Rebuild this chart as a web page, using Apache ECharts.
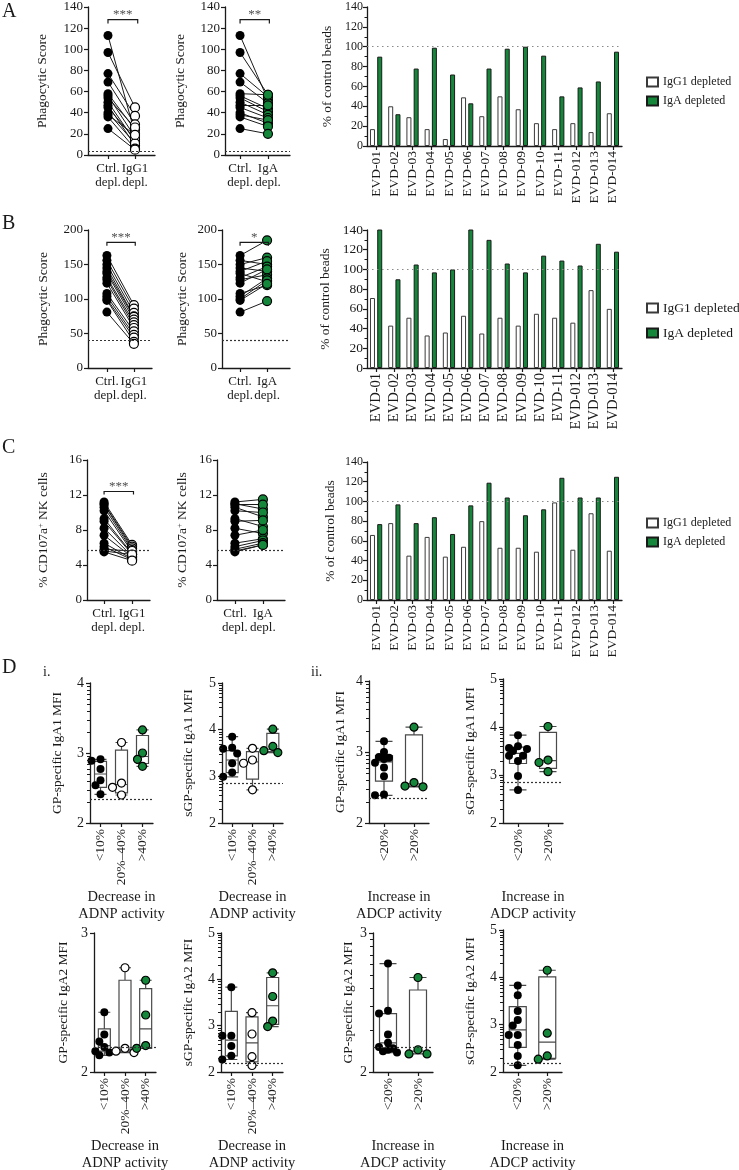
<!DOCTYPE html>
<html><head><meta charset="utf-8">
<script src="https://cdn.jsdelivr.net/npm/echarts@6/dist/echarts.min.js"></script>
<style>html,body{margin:0;padding:0;background:#fff}#c{width:739px;height:1170px}</style>
</head><body><div id="c"></div>
<script>
// ---------------- DATA ----------------
const donors = ['EVD-01','EVD-02','EVD-03','EVD-04','EVD-05','EVD-06','EVD-07','EVD-08','EVD-09','EVD-10','EVD-11','EVD-012','EVD-013','EVD-014'];

// Panel A – phagocytic score (ADCP)
const A_ctrl = [113, 97, 77, 69, 58, 56, 54, 50, 47, 45, 40, 38, 36, 25];
const A_igg1 = [20, 45, 37, 29, 24, 17, 26, 13, 9, 15, 11, 19, 6, 5];
const A_iga  = [52, 57, 55, 49, 57, 44, 41, 38, 47, 35, 30, 33, 27, 20];
const A_bar_igg1 = [17, 40, 29, 17, 7, 49, 30, 50, 37, 23, 17, 23, 14, 33];
const A_bar_iga  = [90, 32, 78, 99, 72, 43, 78, 98, 100, 91, 50, 59, 65, 95];

// Panel B – phagocytic score (ADNP)
const B_ctrl = [163, 156, 150, 145, 140, 137, 131, 128, 123, 108, 104, 100, 98, 81];
const B_igg1 = [91, 86, 80, 75, 74, 70, 66, 62, 58, 53, 48, 44, 38, 35];
const B_iga  = [185, 150, 160, 140, 155, 125, 147, 135, 143, 120, 130, 127, 122, 97];
const B_bar_igg1 = [71, 43, 51, 33, 36, 53, 35, 51, 43, 55, 51, 46, 79, 60];
const B_bar_iga  = [141, 90, 105, 97, 100, 141, 130, 106, 97, 114, 109, 104, 126, 118];

// Panel C – % CD107a+ NK cells
const C_ctrl = [11.2, 11.0, 10.9, 10.6, 10.2, 9.3, 9.0, 8.2, 7.4, 6.5, 6.1, 5.8, 5.6, 5.5];
const C_igg1 = [6.3, 6.1, 5.9, 5.7, 5.5, 5.3, 5.2, 5.0, 4.9, 4.7, 4.6, 5.6, 5.2, 4.5];
const C_iga  = [11.5, 10.4, 10.9, 9.5, 10.0, 8.4, 9.1, 7.6, 8.0, 7.0, 6.8, 6.5, 6.3, 6.3];
const C_bar_igg1 = [66, 78, 45, 64, 44, 54, 80, 53, 53, 49, 99, 51, 88, 50];
const C_bar_iga  = [77, 97, 78, 84, 67, 96, 119, 104, 86, 92, 124, 104, 104, 125];

// Panel D – log10 MFI values; boxes = [min, Q1, median, Q3, max]
const adnpCats = ['<10%', '20%\u201340%', '>40%'];
const adcpCats = ['<20%', '>20%'];

const D1_pts = [[2.91, 2.89, 2.77, 2.61, 2.54, 2.41], [3.15, 2.57, 2.51, 2.40], [3.33, 3.00, 2.91, 2.81]];
const D1_box = [[2.41, 2.51, 2.70, 2.88, 2.91], [2.40, 2.43, 2.55, 3.04, 3.15], [2.81, 2.85, 2.95, 3.25, 3.33]];
const D2_pts = [[3.85, 3.61, 3.59, 3.49, 3.28, 3.08, 2.99], [3.60, 3.35, 3.28, 2.71], [4.01, 3.64, 3.55, 3.51]];
const D2_box = [[2.99, 3.08, 3.35, 3.55, 3.85], [2.71, 2.94, 3.31, 3.53, 3.60], [3.51, 3.53, 3.58, 3.92, 4.01]];
const D3_pts = [[3.15, 3.00, 2.93, 2.92, 2.90, 2.85, 2.78, 2.66, 2.40, 2.39], [3.35, 2.57, 2.52, 2.51]];
const D3_box = [[2.39, 2.59, 2.86, 2.95, 3.15], [2.51, 2.52, 2.55, 3.24, 3.35]];
const D4_pts = [[3.83, 3.60, 3.56, 3.54, 3.50, 3.40, 3.40, 3.29, 2.98, 2.69], [4.01, 3.31, 3.26, 3.07]];
const D4_box = [[2.69, 3.24, 3.45, 3.58, 3.83], [3.07, 3.14, 3.30, 3.89, 4.01]];
const D5_pts = [[2.43, 2.27, 2.22, 2.18, 2.15, 2.14, 2.12], [2.75, 2.17, 2.15, 2.14], [2.66, 2.41, 2.19, 2.17]];
const D5_box = [[2.12, 2.15, 2.19, 2.31, 2.43], [2.14, 2.15, 2.16, 2.66, 2.75], [2.17, 2.17, 2.31, 2.60, 2.66]];
const D6_pts = [[3.83, 2.78, 2.78, 2.56, 2.35, 2.27], [3.28, 2.82, 2.33, 2.14], [4.14, 3.63, 3.10, 2.98]];
const D6_box = [[2.27, 2.35, 2.69, 3.31, 3.83], [2.14, 2.22, 2.63, 3.19, 3.28], [2.98, 3.03, 3.43, 4.04, 4.14]];
const D7_pts = [[2.78, 2.44, 2.42, 2.27, 2.21, 2.18, 2.17, 2.16, 2.15, 2.14], [2.68, 2.16, 2.13, 2.13]];
const D7_box = [[2.14, 2.16, 2.21, 2.42, 2.78], [2.13, 2.13, 2.15, 2.59, 2.68]];
const D8_pts = [[3.83, 3.62, 3.29, 3.10, 2.98, 2.78, 2.78, 2.57, 2.34, 2.14], [4.15, 2.82, 2.34, 2.27]];
const D8_box = [[2.14, 2.52, 2.89, 3.38, 3.83], [2.27, 2.29, 2.63, 4.01, 4.15]];

// ---------------- STYLE / BUILD ----------------
const FONT = '"Liberation Serif", "Times New Roman", serif';
const INK = '#1a1a1a';
const GREEN = '#14873a';

const option = {
  backgroundColor: '#ffffff', animation: false,
  textStyle: { fontFamily: FONT, color: INK },
  grid: [], xAxis: [], yAxis: [], series: [], legend: [], graphic: []
};
const minorSpecs = [];
const axisLine = { show: true, onZero: false, lineStyle: { color: INK, width: 1.3 } };
const axisTick = { show: true, length: 4, lineStyle: { color: INK, width: 1.2 } };
function addGrid(g) { option.grid.push(Object.assign({ outerBoundsMode: 'none', containLabel: false }, g)); return option.grid.length - 1; }
function yName(text, gap, size) {
  return { name: text, nameLocation: 'middle', nameRotate: 90, nameGap: gap,
    nameTextStyle: { fontSize: size || 13.5, color: INK, fontFamily: FONT,
      rich: { sup: { fontSize: 8.5, fontFamily: FONT, color: INK, verticalAlign: 'top', lineHeight: 12 },
              n: { fontSize: size || 13.5, fontFamily: FONT, color: INK, lineHeight: 14 } } } };
}

function paired(p) {
  const gi = addGrid({ left: p.left, top: p.top, width: p.width, height: p.height });
  const xi = option.xAxis.length, yi = option.yAxis.length;
  option.xAxis.push({ gridIndex: gi, type: 'value', min: p.xmin, max: p.xmax, splitLine: { show: false },
    axisLine, axisTick: Object.assign({}, axisTick, { customValues: [0, 1] }),
    axisLabel: { customValues: [0, 1], formatter: v => p.labels[Math.round(v)], fontSize: 13, lineHeight: 14.5, margin: 6,
      color: INK, fontFamily: FONT, hideOverlap: false } });
  option.yAxis.push(Object.assign({ gridIndex: gi, type: 'value', min: 0, max: p.ymax, interval: p.interval, splitLine: { show: false },
    axisLine, axisTick, axisLabel: { fontSize: 13, margin: 5, color: INK, fontFamily: FONT } }, yName(p.yName, p.nameGap)));
  option.series.push({ type: 'lines', coordinateSystem: 'cartesian2d', xAxisIndex: xi, yAxisIndex: yi, silent: true, z: 2,
    lineStyle: { color: INK, width: 1, opacity: 1 },
    data: p.ctrl.map((c, i) => ({ coords: [[0, c], [1, p.other[i]]] })) });
  option.series.push({ type: 'scatter', xAxisIndex: xi, yAxisIndex: yi, z: 3, symbolSize: 9, silent: true,
    itemStyle: { color: '#000', opacity: 1 }, data: p.ctrl.map(v => [0, v]),
    markLine: { silent: true, symbol: 'none', label: { show: false }, animation: false,
      lineStyle: { type: [2, 2], color: '#333', width: 1.2 }, data: [{ yAxis: p.baseline }] } });
  option.series.push({ type: 'scatter', xAxisIndex: xi, yAxisIndex: yi, z: 4, symbolSize: 9, silent: true,
    itemStyle: { color: p.color, borderColor: '#000', borderWidth: 1.2, opacity: 1 }, data: p.other.map(v => [1, v]) });
  if (p.bracket) {
    const b = p.bracket;
    option.series.push({ type: 'lines', coordinateSystem: 'cartesian2d', xAxisIndex: xi, yAxisIndex: yi, polyline: true, silent: true, z: 5,
      lineStyle: { color: INK, width: 1.2, opacity: 1 },
      data: [{ coords: [[0, b.y - b.drop], [0, b.y], [b.x2, b.y], [b.x2, b.y - b.drop]] }] });
    option.series.push({ type: 'scatter', xAxisIndex: xi, yAxisIndex: yi, symbolSize: 1, silent: true, z: 5,
      itemStyle: { color: 'rgba(0,0,0,0)' },
      label: { show: true, position: 'top', distance: -2, formatter: b.text, fontSize: 13, color: INK, fontFamily: FONT },
      data: [[b.x2 / 2, b.y]] });
  }
}

function bars(p) {
  const gi = addGrid({ left: 367, top: p.top, width: 255, height: p.height });
  const xi = option.xAxis.length, yi = option.yAxis.length;
  option.xAxis.push({ gridIndex: gi, type: 'category', data: donors, axisLine,
    axisTick: Object.assign({}, axisTick, { alignWithLabel: true }),
    axisLabel: { rotate: 90, interval: 0, fontSize: p.lf, margin: 5, color: INK, fontFamily: FONT } });
  option.yAxis.push(Object.assign({ gridIndex: gi, type: 'value', min: 0, max: 140, interval: 20, splitLine: { show: false },
    axisLine, axisTick, minorTick: { show: true, splitNumber: 2, length: 2.5, lineStyle: { color: INK, width: 1 } },
    minorSplitLine: { show: false },
    axisLabel: { fontSize: p.yf, margin: 4, color: INK, fontFamily: FONT } }, yName('% of control beads', p.nameGap)));
  option.series.push({ type: 'bar', name: 'IgG1 depleted', xAxisIndex: xi, yAxisIndex: yi, data: p.igg1, barWidth: 5, barGap: '45%',
    itemStyle: { color: '#ffffff', borderColor: '#3a3a3a', borderWidth: 1 },
    markLine: { silent: true, symbol: 'none', label: { show: false }, lineStyle: { type: [1.5, 3.5], color: '#8a8a8a', width: 1.1 }, data: [{ yAxis: 100 }] } });
  option.series.push({ type: 'bar', name: 'IgA depleted', xAxisIndex: xi, yAxisIndex: yi, data: p.iga, barWidth: 5, barGap: '45%',
    itemStyle: { color: GREEN, borderColor: '#1a1a1a', borderWidth: 1 } });
  option.legend.push({ left: 641, top: p.legTop, orient: 'vertical', icon: 'rect', itemWidth: 11, itemHeight: 9, itemGap: p.legGap,
    selectedMode: false, textStyle: { fontSize: p.legFont, color: INK, fontFamily: FONT }, data: ['IgG1 depleted', 'IgA depleted'] });
}

// minor tick positions of a log10 axis (axis decoration, not data)
function logMinor(min, max) { const r = []; for (let n = Math.floor(min); n < max; n++) for (let k = 2; k <= 9; k++) r.push(n + Math.log10(k)); return r; }

function swarm(vals, pxPerUnit, size) {
  const placed = [], offs = [];
  const cands = [0, -5, 5, -9, 9];
  vals.forEach(v => {
    const y = v * pxPerUnit;
    let best = null, bestD = -1;
    for (const c of cands) {
      const d = placed.length ? Math.min(...placed.map(q => Math.hypot(q.x - c, q.y - y))) : 1e9;
      if (d >= size - 1) { best = c; break; }
      if (d > bestD) { bestD = d; best = c; }
    }
    placed.push({ x: best, y }); offs.push(best);
  });
  return offs;
}

function boxes(p) {
  const gi = addGrid({ left: p.left, top: p.top, width: p.width, height: p.height });
  const xi = option.xAxis.length, yi = option.yAxis.length;
  option.xAxis.push({ gridIndex: gi, type: 'category', data: p.cats, axisLine,
    axisTick: Object.assign({}, axisTick, { alignWithLabel: true }),
    axisLabel: { rotate: 90, interval: 0, fontSize: 13.5, margin: 6, color: INK, fontFamily: FONT },
    name: p.xName, nameLocation: 'middle', nameGap: p.xGap || 66,
    nameTextStyle: { fontSize: 14.5, lineHeight: 17, color: INK, fontFamily: FONT } });
  option.yAxis.push(Object.assign({ gridIndex: gi, type: 'value', position: 'left', min: 2, max: p.ymax, interval: 1, splitLine: { show: false },
    axisLine, axisTick, axisLabel: { fontSize: 14, margin: 6, color: INK, fontFamily: FONT } }, yName(p.yName, p.nameGap)));
  if (p.minor) minorSpecs.push({ gi, xi, yi, left: p.left, vals: logMinor(2, p.ymax) });
  option.series.push({ type: 'boxplot', xAxisIndex: xi, yAxisIndex: yi, data: p.box, boxWidth: [p.bw, p.bw], silent: true, z: 2,
    itemStyle: { color: 'rgba(255,255,255,0)', borderColor: '#4a4a4a', borderWidth: 1.2 } });
  const ppu = p.height / (p.ymax - 2);
  p.pts.forEach((vals, ci) => {
    const col = p.colors[ci];
    const offs = swarm(vals, ppu, 8);
    option.series.push({ type: 'scatter', xAxisIndex: xi, yAxisIndex: yi, z: 4, symbolSize: 8, silent: true,
      itemStyle: { color: col, borderColor: '#000', borderWidth: col === '#000' ? 0 : 1.2, opacity: 1 },
      data: vals.map((v, k) => ({ value: [ci, v], symbolOffset: [offs[k], 0] })),
      markLine: ci === 0 ? { silent: true, symbol: 'none', label: { show: false },
        lineStyle: { type: [2, 2], color: '#333', width: 1.2 }, data: [{ yAxis: p.baseline }] } : undefined });
  });
}

// ---- Panel A ----
paired({ left: 88, top: 7, width: 67, height: 148, xmin: -0.74, xmax: 1.74, ymax: 140, interval: 20,
  labels: ['Ctrl.\ndepl.', 'IgG1\ndepl.'], ctrl: A_ctrl, other: A_igg1, color: '#ffffff', baseline: 4,
  yName: 'Phagocytic Score', nameGap: 39, bracket: { y: 128, drop: 3.5, x2: 1.1, text: '***' } });
paired({ left: 225, top: 7, width: 65, height: 148, xmin: -0.54, xmax: 1.79, ymax: 140, interval: 20,
  labels: ['Ctrl.\ndepl.', 'IgA\ndepl.'], ctrl: A_ctrl, other: A_iga, color: GREEN, baseline: 4,
  yName: 'Phagocytic Score', nameGap: 38, bracket: { y: 128, drop: 3.5, x2: 1.05, text: '**' } });
bars({ top: 7, height: 139, igg1: A_bar_igg1, iga: A_bar_iga, lf: 13.5, yf: 12, nameGap: 33, legTop: 71, legGap: 7, legFont: 12 });

// ---- Panel B ----
paired({ left: 88, top: 230, width: 64, height: 138, xmin: -0.70, xmax: 1.67, ymax: 200, interval: 50,
  labels: ['Ctrl.\ndepl.', 'IgG1\ndepl.'], ctrl: B_ctrl, other: B_igg1, color: '#ffffff', baseline: 40,
  yName: 'Phagocytic Score', nameGap: 38, bracket: { y: 182, drop: 5, x2: 1.05, text: '***' } });
paired({ left: 222, top: 230, width: 68, height: 138, xmin: -0.67, xmax: 1.85, ymax: 200, interval: 50,
  labels: ['Ctrl.\ndepl.', 'IgA\ndepl.'], ctrl: B_ctrl, other: B_iga, color: GREEN, baseline: 40,
  yName: 'Phagocytic Score', nameGap: 33, bracket: { y: 182, drop: 5, x2: 1.05, text: '*' } });
bars({ top: 230, height: 138, igg1: B_bar_igg1, iga: B_bar_iga, lf: 14.5, yf: 13.5, nameGap: 35, legTop: 296, legGap: 11, legFont: 13.5 });

// ---- Panel C ----
paired({ left: 87, top: 460, width: 63, height: 140, xmin: -0.61, xmax: 1.64, ymax: 16, interval: 4,
  labels: ['Ctrl.\ndepl.', 'IgG1\ndepl.'], ctrl: C_ctrl, other: C_igg1, color: '#ffffff', baseline: 5.7,
  yName: '{n|% CD107a}{sup|+}{n| NK cells}', nameGap: 37, bracket: { y: 12.4, drop: 0.35, x2: 1.05, text: '***' } });
paired({ left: 217, top: 460, width: 68, height: 140, xmin: -0.64, xmax: 1.79, ymax: 16, interval: 4,
  labels: ['Ctrl.\ndepl.', 'IgA\ndepl.'], ctrl: C_ctrl, other: C_iga, color: GREEN, baseline: 5.7,
  yName: '{n|% CD107a}{sup|+}{n| NK cells}', nameGap: 28 });
bars({ top: 462, height: 138, igg1: C_bar_igg1, iga: C_bar_iga, lf: 13.5, yf: 12, nameGap: 30, legTop: 512, legGap: 7, legFont: 12 });

// ---- Panel D ----
const colI = ['#000', '#ffffff', GREEN];
const colII = ['#000', GREEN];
const adnp = 'Decrease in\nADNP activity';
const adcp = 'Increase in\nADCP activity';
boxes({ left: 90, top: 683, width: 63, height: 140, ymax: 4, cats: adnpCats, pts: D1_pts, box: D1_box, colors: colI, bw: 12,
  baseline: 2.34, yName: 'GP-specific IgA1 MFI', nameGap: 26, xName: adnp, minor: true });
boxes({ left: 222, top: 683, width: 61, height: 140, ymax: 5, cats: adnpCats, pts: D2_pts, box: D2_box, colors: colI, bw: 12,
  baseline: 2.86, yName: 'sGP-specific IgA1 MFI', nameGap: 27, xName: adnp, minor: true });
boxes({ left: 369, top: 681, width: 60, height: 142, ymax: 4, cats: adcpCats, pts: D3_pts, box: D3_box, colors: colII, bw: 17,
  baseline: 2.35, yName: 'GP-specific IgA1 MFI', nameGap: 22, xName: adcp, minor: true });
boxes({ left: 503, top: 679, width: 60, height: 144, ymax: 5, cats: adcpCats, pts: D4_pts, box: D4_box, colors: colII, bw: 17,
  baseline: 2.85, yName: 'sGP-specific IgA1 MFI', nameGap: 26, xName: adcp, minor: true });
boxes({ left: 94, top: 933, width: 62, height: 139, ymax: 3, cats: adnpCats, pts: D5_pts, box: D5_box, colors: colI, bw: 12,
  baseline: 2.18, yName: 'GP-specific IgA2 MFI', nameGap: 24, xName: adnp, minor: false });
boxes({ left: 221, top: 933, width: 62, height: 139, ymax: 5, cats: adnpCats, pts: D6_pts, box: D6_box, colors: colI, bw: 12,
  baseline: 2.19, yName: 'sGP-specific IgA2 MFI', nameGap: 26, xName: adnp, minor: true });
boxes({ left: 373, top: 933, width: 60, height: 139, ymax: 3, cats: adcpCats, pts: D7_pts, box: D7_box, colors: colII, bw: 17,
  baseline: 2.18, yName: 'GP-specific IgA2 MFI', nameGap: 18, xName: adcp, minor: true });
boxes({ left: 503, top: 930, width: 59, height: 142, ymax: 5, cats: adcpCats, pts: D8_pts, box: D8_box, colors: colII, bw: 17,
  baseline: 2.19, yName: 'sGP-specific IgA2 MFI', nameGap: 26, xName: adcp, minor: true });

// panel letters
const letter = (t, x, y, s) => ({ type: 'text', left: x, top: y, silent: true,
  style: { text: t, fontSize: s, fontFamily: FONT, fill: INK } });
option.graphic = [letter('A', 2, 2, 20), letter('B', 2, 214, 20), letter('C', 2, 438, 20), letter('D', 2, 658, 20),
  letter('i.', 43, 665, 14), letter('ii.', 311, 665, 14)];

const chart = echarts.init(document.getElementById('c'), null, { renderer: 'canvas' });
chart.setOption(option);

// log-style minor ticks on the D panels' y axes, placed through the axes' own scales
function toPxY(s, v) {
  let pt = null;
  try { pt = chart.convertToPixel({ gridIndex: s.gi }, [0, v]); } catch (e) { pt = null; }
  if (pt && pt.length === 2 && isFinite(pt[1])) return pt[1];
  try { const y = chart.convertToPixel({ yAxisIndex: s.yi }, v); if (isFinite(y)) return y; } catch (e) {}
  return null;
}
const tickEls = [];
minorSpecs.forEach(s => {
  s.vals.forEach(v => {
    const y = toPxY(s, v);
    if (y !== null) {
      const yy = Math.round(y) + 0.5;
      tickEls.push({ type: 'line', silent: true, z: 100,
        shape: { x1: s.left - 3, y1: yy, x2: s.left, y2: yy }, style: { stroke: INK, lineWidth: 1 } });
    }
  });
});
option.graphic = option.graphic.concat(tickEls);
chart.setOption({ graphic: option.graphic });
</script></body></html>
